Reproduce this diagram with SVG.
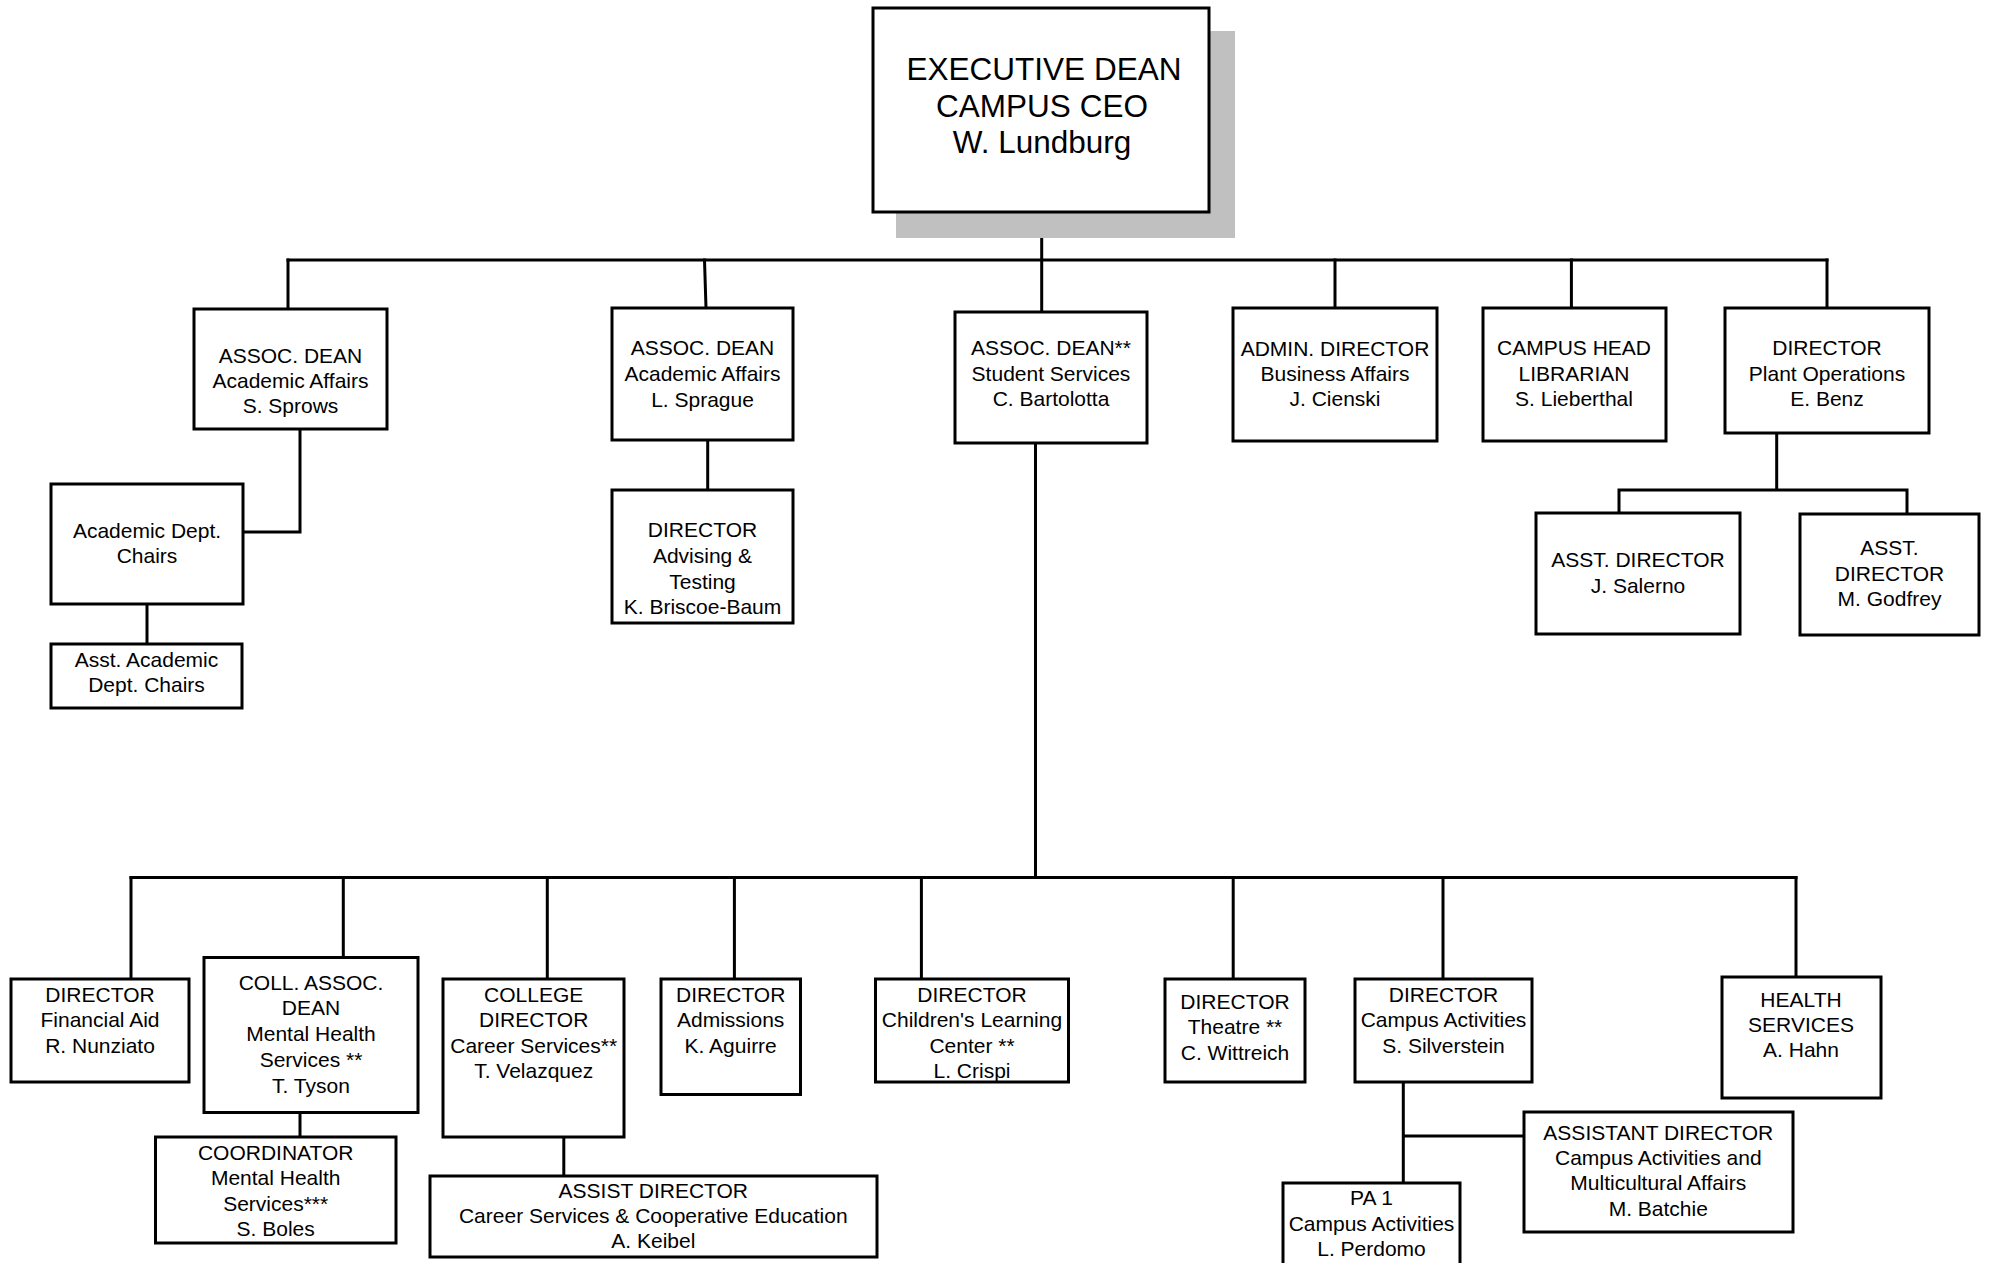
<svg xmlns="http://www.w3.org/2000/svg" width="1989" height="1263" viewBox="0 0 1989 1263">
<style>
.box{fill:#fff;stroke:#000;stroke-width:3}
.c{fill:none;stroke:#000;stroke-width:3;stroke-linecap:square}
text{font-family:"Liberation Sans",Arial,sans-serif;font-size:21px;fill:#000;text-anchor:middle}
.big{font-size:31.5px}
</style>
<rect width="1989" height="1263" fill="#fff"/>
<g id="connectors">
<path class="c" d="M1041.7 212V260M288 260H1827"/>
<path class="c" d="M288 260V309M704.5 260L706 308M1041.7 260V312M1335 260V308M1571.4 260V308M1827 260V308"/>
<path class="c" d="M300 429V532H243"/>
<path class="c" d="M147 604V644"/>
<path class="c" d="M707.7 440V490"/>
<path class="c" d="M1776.7 433V490M1619 490H1907M1619 490V513M1907 490V514"/>
<path class="c" d="M1035.5 443V877.5M131 877.5H1796"/>
<path class="c" d="M131 877.5V979M343.3 877.5V957.5M547.3 877.5V979M734.4 877.5V979M921.4 877.5V979M1233.2 877.5V979M1443 877.5V979M1796 877.5V977"/>
<path class="c" d="M300 1112.5V1137"/>
<path class="c" d="M563.8 1137V1176"/>
<path class="c" d="M1403.3 1082V1183M1403.3 1136H1524"/>
</g>
<g id="exec">
<rect x="896" y="31" width="339" height="207" fill="#c0c0c0"/>
<rect class="box" x="873" y="8" width="336" height="204"/>
<text class="big" x="1044" y="80">EXECUTIVE DEAN</text>
<text class="big" x="1042" y="116.5">CAMPUS CEO</text>
<text class="big" x="1042" y="153">W. Lundburg</text>
</g>
<g id="sprows">
<rect class="box" x="194" y="309" width="193" height="120"/>
<text x="290.5" y="363">ASSOC. DEAN</text>
<text x="290.5" y="388">Academic Affairs</text>
<text x="290.5" y="413">S. Sprows</text>
</g>
<g id="chairs">
<rect class="box" x="51" y="484" width="192" height="120"/>
<text x="147" y="538">Academic Dept.</text>
<text x="147" y="563">Chairs</text>
</g>
<g id="asstchairs">
<rect class="box" x="51" y="644" width="191" height="64"/>
<text x="146.5" y="667">Asst. Academic</text>
<text x="146.5" y="692">Dept. Chairs</text>
</g>
<g id="sprague">
<rect class="box" x="612" y="308" width="181" height="132"/>
<text x="702.5" y="355">ASSOC. DEAN</text>
<text x="702.5" y="381">Academic Affairs</text>
<text x="702.5" y="407">L. Sprague</text>
</g>
<g id="advising">
<rect class="box" x="612" y="490" width="181" height="133"/>
<text x="702.5" y="537">DIRECTOR</text>
<text x="702.5" y="563">Advising &amp;</text>
<text x="702.5" y="589">Testing</text>
<text x="702.5" y="614">K. Briscoe-Baum</text>
</g>
<g id="bartolotta">
<rect class="box" x="955" y="312" width="192" height="131"/>
<text x="1051" y="355">ASSOC. DEAN**</text>
<text x="1051" y="381">Student Services</text>
<text x="1051" y="406">C. Bartolotta</text>
</g>
<g id="cienski">
<rect class="box" x="1233" y="308" width="204" height="133"/>
<text x="1335" y="356">ADMIN. DIRECTOR</text>
<text x="1335" y="381">Business Affairs</text>
<text x="1335" y="406">J. Cienski</text>
</g>
<g id="librarian">
<rect class="box" x="1483" y="308" width="183" height="133"/>
<text x="1574" y="355">CAMPUS HEAD</text>
<text x="1574" y="381">LIBRARIAN</text>
<text x="1574" y="406">S. Lieberthal</text>
</g>
<g id="plant">
<rect class="box" x="1725" y="308" width="204" height="125"/>
<text x="1827" y="355">DIRECTOR</text>
<text x="1827" y="381">Plant Operations</text>
<text x="1827" y="406">E. Benz</text>
</g>
<g id="salerno">
<rect class="box" x="1536" y="513" width="204" height="121"/>
<text x="1638" y="567">ASST. DIRECTOR</text>
<text x="1638" y="593">J. Salerno</text>
</g>
<g id="godfrey">
<rect class="box" x="1800" y="514" width="179" height="121"/>
<text x="1889.5" y="555">ASST.</text>
<text x="1889.5" y="581">DIRECTOR</text>
<text x="1889.5" y="606">M. Godfrey</text>
</g>
<g id="finaid">
<rect class="box" x="11" y="979" width="178" height="103"/>
<text x="100" y="1002">DIRECTOR</text>
<text x="100" y="1027">Financial Aid</text>
<text x="100" y="1053">R. Nunziato</text>
</g>
<g id="tyson">
<rect class="box" x="204" y="957.5" width="214" height="155"/>
<text x="311" y="990">COLL. ASSOC.</text>
<text x="311" y="1015">DEAN</text>
<text x="311" y="1041">Mental Health</text>
<text x="311" y="1067">Services **</text>
<text x="311" y="1093">T. Tyson</text>
</g>
<g id="boles">
<rect class="box" x="155.5" y="1137" width="240.5" height="106"/>
<text x="275.7" y="1160">COORDINATOR</text>
<text x="275.7" y="1185">Mental Health</text>
<text x="275.7" y="1211">Services***</text>
<text x="275.7" y="1236">S. Boles</text>
</g>
<g id="velazquez">
<rect class="box" x="443" y="979" width="181" height="158"/>
<text x="533.7" y="1002">COLLEGE</text>
<text x="533.7" y="1027">DIRECTOR</text>
<text x="533.7" y="1053">Career Services**</text>
<text x="533.7" y="1078">T. Velazquez</text>
</g>
<g id="keibel">
<rect class="box" x="430" y="1176" width="447" height="81"/>
<text x="653.3" y="1198">ASSIST DIRECTOR</text>
<text x="653.3" y="1223">Career Services &amp; Cooperative Education</text>
<text x="653.3" y="1248">A. Keibel</text>
</g>
<g id="aguirre">
<rect class="box" x="661" y="979" width="139.5" height="115.5"/>
<text x="730.7" y="1002">DIRECTOR</text>
<text x="730.7" y="1027">Admissions</text>
<text x="730.7" y="1053">K. Aguirre</text>
</g>
<g id="crispi">
<rect class="box" x="875.5" y="979" width="193" height="103"/>
<text x="972" y="1002">DIRECTOR</text>
<text x="972" y="1027">Children's Learning</text>
<text x="972" y="1053">Center **</text>
<text x="972" y="1077.5">L. Crispi</text>
</g>
<g id="wittreich">
<rect class="box" x="1165" y="979" width="140" height="103"/>
<text x="1235" y="1009">DIRECTOR</text>
<text x="1235" y="1034">Theatre **</text>
<text x="1235" y="1060">C. Wittreich</text>
</g>
<g id="silverstein">
<rect class="box" x="1355" y="979" width="177" height="103"/>
<text x="1443.5" y="1002">DIRECTOR</text>
<text x="1443.5" y="1027">Campus Activities</text>
<text x="1443.5" y="1053">S. Silverstein</text>
</g>
<g id="hahn">
<rect class="box" x="1722" y="977" width="159" height="121"/>
<text x="1801" y="1007">HEALTH</text>
<text x="1801" y="1032">SERVICES</text>
<text x="1801" y="1057">A. Hahn</text>
</g>
<g id="batchie">
<rect class="box" x="1524" y="1112" width="269" height="120"/>
<text x="1658.3" y="1139.5">ASSISTANT DIRECTOR</text>
<text x="1658.3" y="1165">Campus Activities and</text>
<text x="1658.3" y="1190">Multicultural Affairs</text>
<text x="1658.3" y="1216">M. Batchie</text>
</g>
<g id="perdomo">
<rect class="box" x="1283" y="1183" width="177" height="90"/>
<text x="1371.5" y="1205">PA 1</text>
<text x="1371.5" y="1231">Campus Activities</text>
<text x="1371.5" y="1256">L. Perdomo</text>
</g>
</svg>
